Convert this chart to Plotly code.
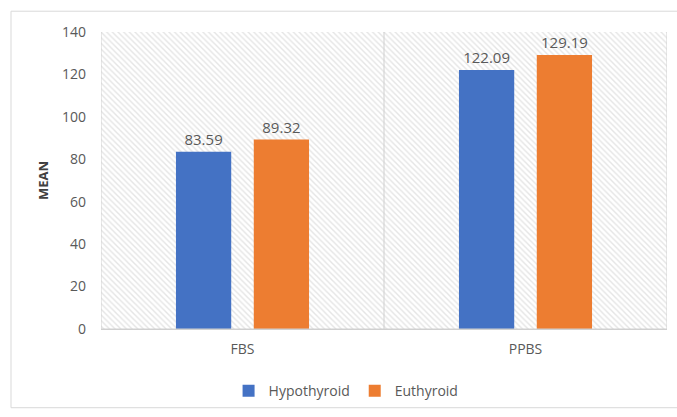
import plotly.graph_objects as go

# Mean blood glucose by thyroid status
categories = ["FBS", "PPBS"]
hypothyroid = [83.59, 122.09]
euthyroid = [89.32, 129.19]
y_ticks = [0, 20, 40, 60, 80, 100, 120, 140]

grey_text = "#595959"
line_grey = "#d0d0d0"
font_family = "Open Sans, Liberation Sans, sans-serif"

fig = go.Figure()

# Hatched plot-area background, drawn on a hidden numeric axis underneath
fig.add_trace(go.Bar(
    x=[0.5], y=[max(y_ticks)], width=[1], xaxis="x", yaxis="y",
    marker=dict(color="white", line=dict(width=0),
                pattern=dict(shape="\\", fgcolor="#cccccc", bgcolor="white",
                             size=4, solidity=0.35)),
    hoverinfo="skip", showlegend=False,
))

fig.add_trace(go.Bar(
    name="Hypothyroid", x=categories, y=hypothyroid, xaxis="x2", yaxis="y",
    marker=dict(color="#4472C4", line=dict(width=0)),
    text=[f"{v:.2f}" for v in hypothyroid], textposition="outside",
    textfont=dict(size=15, color=grey_text), cliponaxis=False,
))
fig.add_trace(go.Bar(
    name="Euthyroid", x=categories, y=euthyroid, xaxis="x2", yaxis="y",
    marker=dict(color="#ED7D31", line=dict(width=0)),
    text=[f"{v:.2f}" for v in euthyroid], textposition="outside",
    textfont=dict(size=15, color=grey_text), cliponaxis=False,
))

# Category separator and plot-area edges on top of the hatch
edge_lines = [
    dict(type="line", xref="x", yref="paper", x0=xv, x1=xv, y0=0, y1=1,
         line=dict(color=line_grey, width=1), layer="above")
    for xv in (0, 0.5, 1)
]

fig.update_layout(
    width=677, height=417,
    margin=dict(l=101, r=10, t=32, b=84),
    paper_bgcolor="white", plot_bgcolor="white",
    font=dict(family=font_family, color=grey_text, size=14),
    barmode="group", bargap=0.45, bargroupgap=0.29,
    xaxis=dict(range=[0, 1], visible=False, fixedrange=True),
    xaxis2=dict(overlaying="x", type="category", side="bottom",
                showgrid=False, ticks="", showline=False, zeroline=False,
                ticklabelstandoff=10,
                tickfont=dict(size=14, color=grey_text)),
    yaxis=dict(range=[0, 140], tickvals=y_ticks, showgrid=False,
               zeroline=True, zerolinecolor=line_grey, zerolinewidth=1,
               showline=False, ticks="", ticklabelstandoff=14,
               tickfont=dict(size=14, color=grey_text),
               title=dict(text="<b>MEAN</b>", standoff=10,
                          font=dict(size=13, color="#404040"))),
    legend=dict(orientation="h", x=0.433, xanchor="center", y=-0.155,
                yanchor="top", font=dict(size=14, color=grey_text),
                itemwidth=30, traceorder="normal"),
    shapes=edge_lines + [
        dict(type="line", xref="paper", yref="y", x0=0, x1=1, y0=0, y1=0,
             line=dict(color=line_grey, width=1), layer="above"),
        dict(type="rect", xref="paper", yref="paper",
             x0=-0.159, x1=1.03, y0=-0.265, y1=1.07,
             line=dict(color="#d9d9d9", width=1), layer="below"),
    ],
    showlegend=True,
)

fig.write_html("out.html")
